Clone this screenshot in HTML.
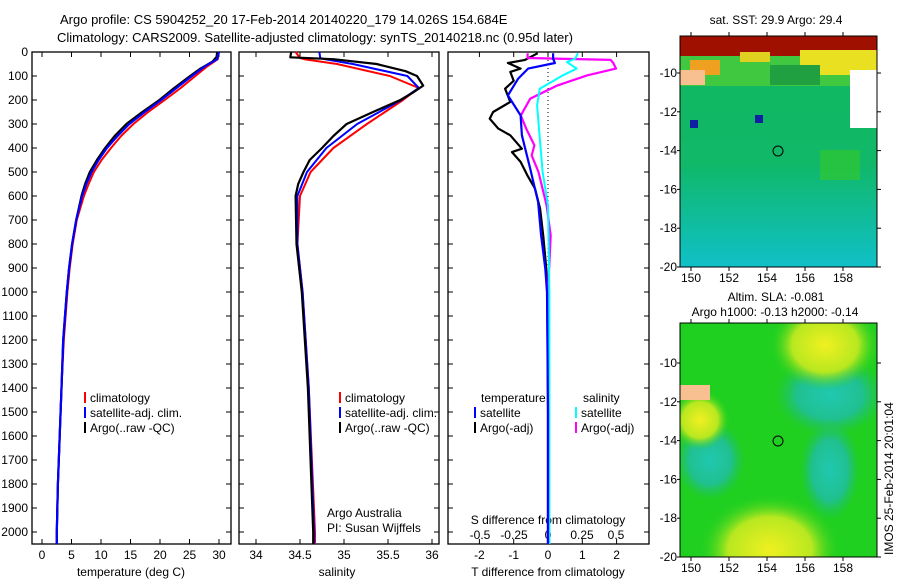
<!DOCTYPE html>
<html><head><meta charset="utf-8"><style>
body{margin:0;background:#fff;}
svg{display:block;font-family:"Liberation Sans",sans-serif;}
</style></head><body>
<svg id="c" width="900" height="580" xmlns="http://www.w3.org/2000/svg">
<defs>
<radialGradient id="y1" cx="0.5" cy="0.5" r="0.5"><stop offset="0" stop-color="#f0f020"/><stop offset="0.6" stop-color="#b8e820"/><stop offset="1" stop-color="#30d020" stop-opacity="0"/></radialGradient>
<radialGradient id="t1" cx="0.5" cy="0.5" r="0.5"><stop offset="0" stop-color="#20c8b0"/><stop offset="0.6" stop-color="#20c090"/><stop offset="1" stop-color="#20c060" stop-opacity="0"/></radialGradient>
<linearGradient id="sst" x1="0" y1="0" x2="0" y2="1"><stop offset="0" stop-color="#10b860"/><stop offset="0.55" stop-color="#10b868"/><stop offset="1" stop-color="#10c0c8"/></linearGradient>
<clipPath id="m1"><rect x="680" y="36" width="197" height="231"/></clipPath>
<clipPath id="m2"><rect x="680" y="323" width="197" height="234"/></clipPath>
</defs>
<text x="60" y="24" font-size="13">Argo profile: CS 5904252_20 17-Feb-2014 20140220_179 14.026S 154.684E</text>
<text x="57" y="42" font-size="13">Climatology: CARS2009. Satellite-adjusted climatology: synTS_20140218.nc (0.95d later)</text>
<g id="axes"></g>
<g id="maps">
 <g clip-path="url(#m1)">
  <rect x="680" y="36" width="197" height="231" fill="url(#sst)"/>
  <rect x="680" y="36" width="197" height="50" fill="#40c840"/>
  <rect x="680" y="36" width="197" height="20" fill="#a01000"/>
  <rect x="800" y="50" width="77" height="25" fill="#e8e020"/>
  <rect x="850" y="70" width="27" height="58" fill="#fff"/>
  <rect x="690" y="60" width="30" height="15" fill="#f0a020"/>
  <rect x="740" y="52" width="30" height="10" fill="#e0d020"/>
  <rect x="770" y="65" width="50" height="20" fill="#20a040"/>
  <rect x="680" y="70" width="25" height="15" fill="#f8c090"/>
  <rect x="690" y="120" width="8" height="8" fill="#1020a0"/>
  <rect x="755" y="115" width="8" height="8" fill="#1020a0"/>
  <rect x="820" y="150" width="40" height="30" fill="#30c830" opacity="0.7"/>
 </g>
 <rect x="680" y="36" width="197" height="231" fill="none" stroke="#000"/>
 <circle cx="778" cy="151" r="5" fill="none" stroke="#000"/>
 <g clip-path="url(#m2)">
  <rect x="680" y="323" width="197" height="234" fill="#20d020"/>
  <ellipse cx="830" cy="395" rx="55" ry="40" fill="url(#t1)"/>
  <ellipse cx="830" cy="470" rx="30" ry="50" fill="url(#t1)"/>
  <ellipse cx="710" cy="460" rx="35" ry="40" fill="url(#t1)"/>
  <ellipse cx="825" cy="345" rx="55" ry="45" fill="url(#y1)"/>
  <ellipse cx="770" cy="550" rx="70" ry="55" fill="url(#y1)"/>
  <ellipse cx="700" cy="420" rx="30" ry="30" fill="url(#y1)"/>
  <rect x="680" y="385" width="30" height="15" fill="#f8c090"/>
 </g>
 <rect x="680" y="323" width="197" height="234" fill="none" stroke="#000"/>
 <circle cx="778" cy="441" r="5" fill="none" stroke="#000"/>
 <text x="776" y="24" font-size="12" text-anchor="middle">sat. SST: 29.9 Argo: 29.4</text>
 <text x="776" y="301" font-size="12" text-anchor="middle">Altim. SLA: -0.081</text>
 <text x="775" y="316" font-size="12" text-anchor="middle">Argo h1000: -0.13 h2000: -0.14</text>
 <text transform="translate(893,555) rotate(-90)" font-size="12">IMOS 25-Feb-2014 20:01:04</text>
</g>
</svg>
<script>
const depthTicks=[0,100,200,300,400,500,600,700,800,900,1000,1100,1200,1300,1400,1500,1600,1700,1800,1900,2000];
const tempTicks=[0,5,10,15,20,25,30];
const salTicks=[34,34.5,35,35.5,36];
const tdTicks=[-2,-1,0,1,2];
const sdTicks=[-0.5,-0.25,0,0.25,0.5];
const sdTickLabels=["-0.5","-0.25","0","0.25","0.5"];
const lonTicks=[150,152,154,156,158];
const latTicks=[-10,-12,-14,-16,-18,-20];
// temperature profiles [depth, value]
const tArgo=[[0,29.7],[20,29.6],[40,28.9],[70,26.8],[100,25.1],[150,22.4],[200,19.9],[250,17.0],[300,14.3],[350,12.3],[400,10.7],[450,9.3],[500,8.1],[550,7.3],[600,6.7],[700,5.8],[800,5.1],[900,4.6],[1000,4.2],[1200,3.6],[1400,3.3],[1600,3.0],[1800,2.7],[2000,2.5],[2050,2.5]];
const tClim=[[0,29.9],[30,29.8],[60,28.0],[100,26.0],[150,23.5],[200,20.8],[250,18.0],[300,15.5],[350,13.4],[400,11.7],[450,10.1],[500,8.8],[550,7.9],[600,7.1],[700,5.9],[800,5.2],[900,4.7],[1000,4.3],[1200,3.7],[1400,3.3],[1600,3.0],[1800,2.7],[2000,2.5],[2050,2.5]];
const tSat=[[0,30.0],[30,29.7],[60,27.6],[100,25.4],[150,22.8],[200,20.2],[250,17.4],[300,14.8],[350,12.8],[400,11.0],[450,9.6],[500,8.4],[550,7.5],[600,6.8],[700,5.8],[800,5.1],[900,4.6],[1000,4.2],[1200,3.6],[1400,3.3],[1600,3.0],[1800,2.7],[2000,2.5],[2050,2.5]];
// salinity profiles
const sArgo=[[0,34.4],[22,34.39],[30,34.88],[50,35.37],[80,35.7],[100,35.83],[140,35.9],[170,35.78],[200,35.64],[250,35.33],[300,35.03],[350,34.88],[400,34.75],[450,34.61],[500,34.54],[550,34.48],[600,34.45],[800,34.46],[1000,34.52],[1400,34.59],[2000,34.65],[2050,34.65]];
const sClim=[[0,34.45],[25,34.5],[30,34.55],[50,34.92],[100,35.52],[150,35.85],[200,35.67],[300,35.26],[400,34.88],[500,34.62],[600,34.5],[800,34.47],[1000,34.53],[1400,34.6],[2000,34.67],[2050,34.67]];
const sSat=[[0,34.72],[25,34.73],[30,34.78],[50,35.1],[100,35.72],[150,35.85],[200,35.65],[300,35.15],[400,34.8],[500,34.58],[600,34.47],[800,34.47],[1000,34.53],[1400,34.6],[2000,34.66],[2050,34.66]];
// differences
const dTArgo=[[5,-0.3],[20,-0.5],[33,-0.67],[46,-1.17],[69,-0.8],[83,-1.1],[120,-1.0],[153,-1.25],[208,-1.1],[250,-1.6],[278,-1.7],[319,-1.45],[347,-1.1],[380,-0.9],[403,-0.76],[417,-1.05],[458,-0.8],[514,-0.6],[569,-0.38],[653,-0.23],[764,-0.14],[903,-0.05],[1000,-0.02],[1500,0],[2050,0]];
const dTSat=[[5,0.15],[28,0.15],[46,0.2],[69,-0.58],[111,-0.87],[181,-1.17],[264,-0.8],[347,-0.76],[486,-0.52],[625,-0.29],[764,-0.2],[903,-0.08],[1000,-0.03],[1500,0],[2050,0]];
const dSSat=[[5,0.22],[28,0.2],[42,0.14],[69,0.21],[97,0.11],[153,-0.06],[222,-0.08],[361,-0.06],[500,-0.04],[639,0],[1000,0.01],[2050,0.01]];
const dSArgo=[[5,-0.15],[25,-0.15],[33,0.46],[46,0.48],[69,0.5],[97,0.29],[139,0.07],[194,-0.13],[264,-0.2],[319,-0.16],[389,-0.1],[431,-0.12],[500,-0.07],[639,-0.01],[764,0.02],[1000,0],[2050,0]];

const NS='http://www.w3.org/2000/svg';
const root=document.getElementById('axes');
function mk(tag,attrs,parent){const e=document.createElementNS(NS,tag);for(const k in attrs)e.setAttribute(k,attrs[k]);(parent||root).appendChild(e);return e;}
const yD=d=>52+d*0.24;
const xT=v=>42+v*5.9;
const xS=v=>256+(v-34)*88;
const xTD=v=>548+v*34.3;
const xSD=v=>548+v*136;
const TOP=52,BOT=544;
const panels=[[32,231],[239,439],[448,649]];
panels.forEach((p,i)=>{
  const r=mk('rect',{x:p[0],y:TOP,width:p[1]-p[0],height:BOT-TOP,fill:'none',stroke:'#000','stroke-width':1.3});
  
  
  depthTicks.forEach(d=>{
    mk('line',{x1:p[0],x2:p[0]+5,y1:yD(d),y2:yD(d),stroke:'#000'});
    mk('line',{x1:p[1],x2:p[1]-5,y1:yD(d),y2:yD(d),stroke:'#000'});
  });
});
depthTicks.forEach(d=>{
  const t=mk('text',{x:28,y:yD(d)+4,'font-size':12,'text-anchor':'end'});
  t.textContent=d;
  
  
});
function xaxis(ticks,fx,labels,ly,name,ticksTop){
  ticks.forEach((v,i)=>{
    const x=fx(v);
    mk('line',{x1:x,x2:x,y1:BOT,y2:BOT-5,stroke:'#000'});
    if(ticksTop!==false) mk('line',{x1:x,x2:x,y1:TOP,y2:TOP+5,stroke:'#000'});
    const t=mk('text',{x:x,y:ly,'font-size':12,'text-anchor':'middle'});
    t.textContent=labels?labels[i]:v;
    
    
  });
}
xaxis(tempTicks,xT,null,559,'temperature-tick-label');
xaxis(salTicks,xS,null,559,'salinity-tick-label');
xaxis(tdTicks,xTD,null,559,'t-difference-tick-label');
sdTicks.forEach((v,i)=>{const t=mk('text',{x:xSD(v),y:539,'font-size':12,'text-anchor':'middle'});t.textContent=sdTickLabels[i];});
function label(x,y,s,name,anchor){const t=mk('text',{x:x,y:y,'font-size':12,'text-anchor':anchor||'start'});t.textContent=s;return t;}
label(131,576,'temperature (deg C)','temperature-axis-title','middle');
label(337,576,'salinity','salinity-axis-title','middle');
label(548,576,'T difference from climatology','t-difference-axis-title','middle');
label(548,524,'S difference from climatology','s-difference-axis-title','middle');
label(327,517,'Argo Australia','credit-argo-australia');
label(327,532,'PI: Susan Wijffels','credit-pi');
// dotted zero line
mk('line',{x1:548,x2:548,y1:TOP,y2:yD(900),stroke:'#000','stroke-dasharray':'1,3'});
function line(data,fx,color,w,name){
  const pts=data.map(p=>fx(p[1]).toFixed(1)+','+yD(p[0]).toFixed(1)).join(' ');
  const e=mk('polyline',{points:pts,fill:'none',stroke:color,'stroke-width':w,'stroke-linejoin':'round'});
  
  
}
line(tClim,xT,'#f00',2,'temperature-climatology-line');
line(tArgo,xT,'#000',2.2,'temperature-argo-line');
line(tSat,xT,'#00f',2.2,'temperature-satellite-line');
line(sClim,xS,'#f00',2,'salinity-climatology-line');
line(sSat,xS,'#00f',2,'salinity-satellite-line');
line(sArgo,xS,'#000',2.2,'salinity-argo-line');
line(dTArgo,xTD,'#000',2.2,'t-difference-argo-line');
line(dSArgo,xSD,'#f0f',2.2,'s-difference-argo-line');
line(dSSat,xSD,'#0ff',2,'s-difference-satellite-line');
line(dTSat,xTD,'#00f',2.2,'t-difference-satellite-line');
function legend(x,y,color,s,name){
  const m=mk('rect',{x:x,y:y-10,width:2,height:11,fill:color});
  
  
  label(x+6,y,s,name);
}
legend(84,402,'#f00','climatology','legend-climatology');
legend(84,417,'#00f','satellite-adj. clim.','legend-satellite-adj');
legend(84,432,'#000','Argo(..raw -QC)','legend-argo-raw');
legend(339,402,'#f00','climatology','legend2-climatology');
legend(339,417,'#00f','satellite-adj. clim.','legend2-satellite-adj');
legend(339,432,'#000','Argo(..raw -QC)','legend2-argo-raw');
label(481,402,'temperature','legend-temperature-header');
label(583,402,'salinity','legend-salinity-header');
legend(474,417,'#00f','satellite','legend-t-satellite');
legend(474,432,'#000','Argo(-adj)','legend-t-argo');
legend(575,417,'#0ff','satellite','legend-s-satellite');
legend(575,432,'#f0f','Argo(-adj)','legend-s-argo');
// map axes
const lonX=v=>691+(v-150)*19;
const maps=[[36,267,v=>73+(-10-v)*19.4],[323,557,v=>363+(-10-v)*19.4]];
maps.forEach((m,i)=>{
  lonTicks.forEach(v=>{
    mk('line',{x1:lonX(v),x2:lonX(v),y1:m[1],y2:m[1]+4,stroke:'#000'});
    mk('line',{x1:lonX(v),x2:lonX(v),y1:m[0],y2:m[0]-4,stroke:'#000'});
    const t=mk('text',{x:lonX(v),y:m[1]+15,'font-size':12,'text-anchor':'middle'});t.textContent=v;
    
    
  });
  latTicks.forEach(v=>{
    const y=m[2](v);
    mk('line',{x1:877,x2:881,y1:y,y2:y,stroke:'#000'});
    mk('line',{x1:680,x2:677,y1:y,y2:y,stroke:'#000'});
    const t=mk('text',{x:677,y:y+4,'font-size':12,'text-anchor':'end'});t.textContent=v;
    
    
  });
});
</script>
</body></html>
